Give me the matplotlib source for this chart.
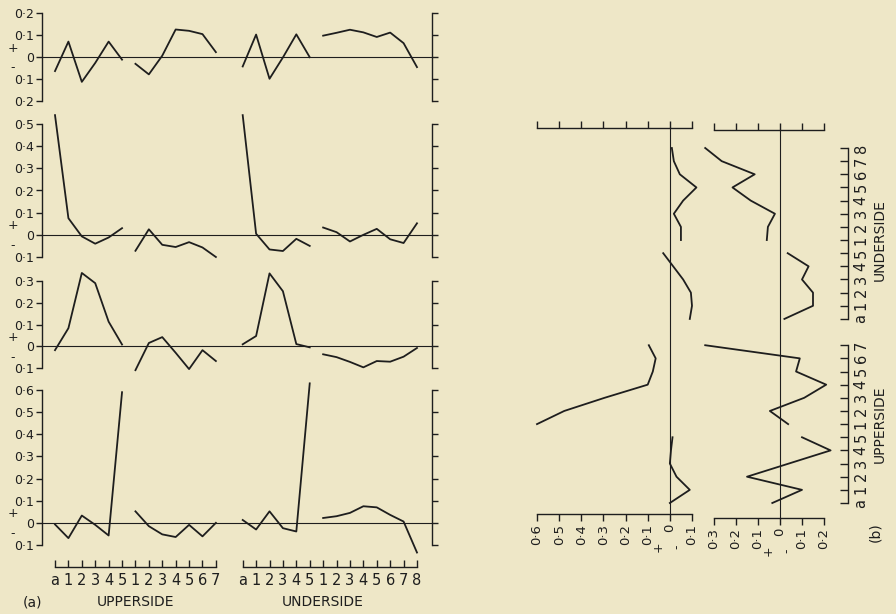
import matplotlib
matplotlib.use("Agg")
import matplotlib.pyplot as plt

# category layout: upperside a,1-5 | 1-7 ; gap ; underside a,1-5 | 1-8
up_labels = ['a', '1', '2', '3', '4', '5', '1', '2', '3', '4', '5', '6', '7']
un_labels = ['a', '1', '2', '3', '4', '5', '1', '2', '3', '4', '5', '6', '7', '8']
up_pos = list(range(0, 13))
un_pos = list(range(14, 28))

# (a) four rows, each with four segments
row1_up1 = [-0.064, 0.070, -0.113, -0.027, 0.070, -0.012]
row1_up2 = [-0.031, -0.079, 0.006, 0.125, 0.119, 0.104, 0.022]
row1_un1 = [-0.043, 0.102, -0.099, -0.002, 0.103, -0.001]
row1_un2 = [0.097, 0.110, 0.124, 0.112, 0.091, 0.111, 0.063, -0.046]

row2_up1 = [0.54, 0.075, -0.007, -0.040, -0.012, 0.030]
row2_up2 = [-0.072, 0.025, -0.045, -0.055, -0.033, -0.057, -0.100]
row2_un1 = [0.54, 0.005, -0.066, -0.073, -0.018, -0.050]
row2_un2 = [0.033, 0.012, -0.030, 0.0, 0.027, -0.020, -0.037, 0.052]

row3_up1 = [-0.018, 0.083, 0.337, 0.290, 0.113, 0.008]
row3_up2 = [-0.110, 0.015, 0.042, -0.030, -0.105, -0.018, -0.068]
row3_un1 = [0.009, 0.047, 0.335, 0.253, 0.010, -0.005]
row3_un2 = [-0.037, -0.050, -0.072, -0.097, -0.068, -0.071, -0.048, -0.008]

row4_up1 = [-0.007, -0.069, 0.033, -0.009, -0.057, 0.59]
row4_up2 = [0.052, -0.015, -0.052, -0.064, -0.009, -0.061, 0.0]
row4_un1 = [0.013, -0.030, 0.052, -0.024, -0.039, 0.63]
row4_un2 = [0.022, 0.030, 0.045, 0.075, 0.070, 0.036, 0.006, -0.134]

rows_a = [
    [row1_up1, row1_up2, row1_un1, row1_un2],
    [row2_up1, row2_up2, row2_un1, row2_un2],
    [row3_up1, row3_up2, row3_un1, row3_un2],
    [row4_up1, row4_up2, row4_un1, row4_un2],
]
limits_a = [(-0.2, 0.2), (-0.1, 0.5), (-0.1, 0.3), (-0.1, 0.6)]

# (b) two columns drawn sideways
b1_up1 = [0.0, -0.09, -0.03, 0.0, -0.005, -0.012]
b1_up2 = [0.60, 0.477, 0.295, 0.10, 0.077, 0.064, 0.095]
b1_un1 = [-0.09, -0.10, -0.095, -0.06, -0.015, 0.03]
b1_un2 = [-0.05, -0.05, -0.018, -0.06, -0.12, -0.045, -0.018, -0.009]

b2_up1 = [0.035, -0.10, 0.15, -0.04, -0.23, -0.10]
b2_up2 = [-0.037, 0.046, -0.11, -0.21, -0.073, -0.09, 0.34]
b2_un1 = [-0.02, -0.15, -0.15, -0.10, -0.13, -0.035]
b2_un2 = [0.06, 0.055, 0.023, 0.133, 0.216, 0.115, 0.265, 0.34]

cols_b = [[b1_up1, b1_up2, b1_un1, b1_un2], [b2_up1, b2_up2, b2_un1, b2_un2]]
limits_b = [(-0.1, 0.6), (-0.2, 0.3)]

W, H = 896, 614
BG = '#eee7c7'
INK = '#1e1e1e'

plt.rcParams['font.family'] = 'DejaVu Sans'
plt.rcParams['axes.edgecolor'] = INK
plt.rcParams['text.color'] = INK
plt.rcParams['xtick.color'] = INK
plt.rcParams['ytick.color'] = INK

fig = plt.figure(figsize=(W / 100, H / 100), dpi=100, facecolor=BG)


def box(x0, y0, x1, y1):
    return [x0 / W, 1 - y1 / H, (x1 - x0) / W, (y1 - y0) / H]


def fmt(v):
    if abs(v) < 1e-9:
        return '0'
    return ('%.1f' % abs(v)).replace('.', '\u00b7')


def segments(vals):
    xs = [up_pos[:6], up_pos[6:], un_pos[:6], un_pos[6:]]
    return zip(xs, vals)


# ---- panel (a) ----
pix_a = [(13, 101), (124, 257), (281, 368), (390, 545)]
for vals, (lo, hi), (top, bot) in zip(rows_a, limits_a, pix_a):
    ax = fig.add_axes(box(42, top, 432, bot))
    ax.set_facecolor('none')
    ax.set_xlim(-0.97, 28.12)
    ax.set_ylim(lo, hi)
    ax.spines['top'].set_visible(False)
    ax.spines['bottom'].set_visible(False)
    for s in ('left', 'right'):
        ax.spines[s].set_linewidth(1.0)
    ticks = [round(lo + 0.1 * i, 1) for i in range(int(round((hi - lo) / 0.1)) + 1)]
    ax.set_yticks(ticks)
    ax.set_yticklabels([fmt(t) for t in ticks])
    ax.tick_params(axis='y', left=True, right=True, direction='out', length=4.5,
                   width=1.0, labelsize=9, pad=1)
    ax.set_xticks([])
    ax.axhline(0, color=INK, lw=0.8)
    for xs, ys in segments(vals):
        ax.plot(xs, ys, color=INK, lw=1.3, clip_on=False)
    ax.annotate('+', xy=(0, 0), xycoords=('axes fraction', 'data'), xytext=(-29, 9),
                textcoords='offset pixels', ha='center', va='center', fontsize=9)
    ax.annotate('-', xy=(0, 0), xycoords=('axes fraction', 'data'), xytext=(-29, -11),
                textcoords='offset pixels', ha='center', va='center', fontsize=9)

# bottom ruler of (a)
rl = fig.add_axes(box(42, 557, 432, 567))
rl.set_facecolor('none')
rl.set_xlim(-0.97, 28.12)
rl.set_ylim(0, 1)
for s in rl.spines.values():
    s.set_visible(False)
rl.set_yticks([])
rl.set_xticks(up_pos + un_pos)
rl.set_xticklabels(up_labels + un_labels)
rl.tick_params(axis='x', direction='in', length=5, width=1.0, labelsize=10.5, pad=4)
for pos in (up_pos, un_pos):
    rl.plot([pos[0], pos[-1]], [0, 0], color=INK, lw=1.0, clip_on=False)
rl.annotate('UPPERSIDE', xy=(6, 0), xycoords='data', xytext=(0, -35),
            textcoords='offset pixels', ha='center', va='center', fontsize=10)
rl.annotate('UNDERSIDE', xy=(20, 0), xycoords='data', xytext=(0, -35),
            textcoords='offset pixels', ha='center', va='center', fontsize=10)
fig.text(32 / W, 1 - 602 / H, '(a)', ha='center', va='center', fontsize=10)

# ---- panel (b) ----
step = (503 - 148) / 27.0
pix_b = [(537, 692, 128, 514), (714, 824, 130, 518)]
for vals, (lo, hi), (x0, x1, top, bot) in zip(cols_b, limits_b, pix_b):
    ax = fig.add_axes(box(x0, top, x1, bot))
    ax.set_facecolor('none')
    ax.set_xlim(hi, lo)
    ax.set_ylim(-(bot - 503) / step, 27 + (148 - top) / step)
    ax.spines['left'].set_visible(False)
    ax.spines['right'].set_visible(False)
    for s in ('top', 'bottom'):
        ax.spines[s].set_linewidth(1.0)
    ticks = [round(lo + 0.1 * i, 1) for i in range(int(round((hi - lo) / 0.1)) + 1)]
    ax.set_xticks(ticks)
    ax.set_xticklabels([fmt(t) for t in ticks], rotation=90)
    ax.tick_params(axis='x', top=True, bottom=True, direction='out', length=5,
                   width=1.0, labelsize=9.5, pad=2)
    ax.set_yticks([])
    ax.axvline(0, color=INK, lw=0.8)
    for ys, xs in segments(vals):
        ax.plot(xs, ys, color=INK, lw=1.3, clip_on=False)
    ax.annotate('+', xy=(0.055, 0), xycoords=('data', 'axes fraction'), xytext=(0, -33),
                textcoords='offset pixels', ha='center', va='center', fontsize=9, rotation=90)
    ax.annotate('-', xy=(-0.03, 0), xycoords=('data', 'axes fraction'), xytext=(0, -33),
                textcoords='offset pixels', ha='center', va='center', fontsize=9, rotation=90)

# category ruler of (b)
rb = fig.add_axes(box(828, 148, 848, 503))
rb.set_facecolor('none')
rb.set_xlim(0, 1)
rb.set_ylim(0, 27)
for s in rb.spines.values():
    s.set_visible(False)
rb.set_xticks([])
rb.yaxis.tick_right()
rb.set_yticks(up_pos + un_pos)
rb.set_yticklabels(up_labels + un_labels, rotation=90, va='center')
rb.tick_params(axis='y', direction='in', length=6, width=1.0, labelsize=10.5, pad=4)
for pos in (up_pos, un_pos):
    rb.plot([1, 1], [pos[0], pos[-1]], color=INK, lw=1.0, clip_on=False)
rb.annotate('UPPERSIDE', xy=(1, 6), xycoords=('axes fraction', 'data'), xytext=(32, 0),
            textcoords='offset pixels', ha='center', va='center', fontsize=10, rotation=90)
rb.annotate('UNDERSIDE', xy=(1, 20), xycoords=('axes fraction', 'data'), xytext=(32, 0),
            textcoords='offset pixels', ha='center', va='center', fontsize=10, rotation=90)
fig.text(875 / W, 1 - 532 / H, '(b)', ha='center', va='center', fontsize=10, rotation=90)

fig.savefig('out.png', dpi=100, facecolor=BG)
